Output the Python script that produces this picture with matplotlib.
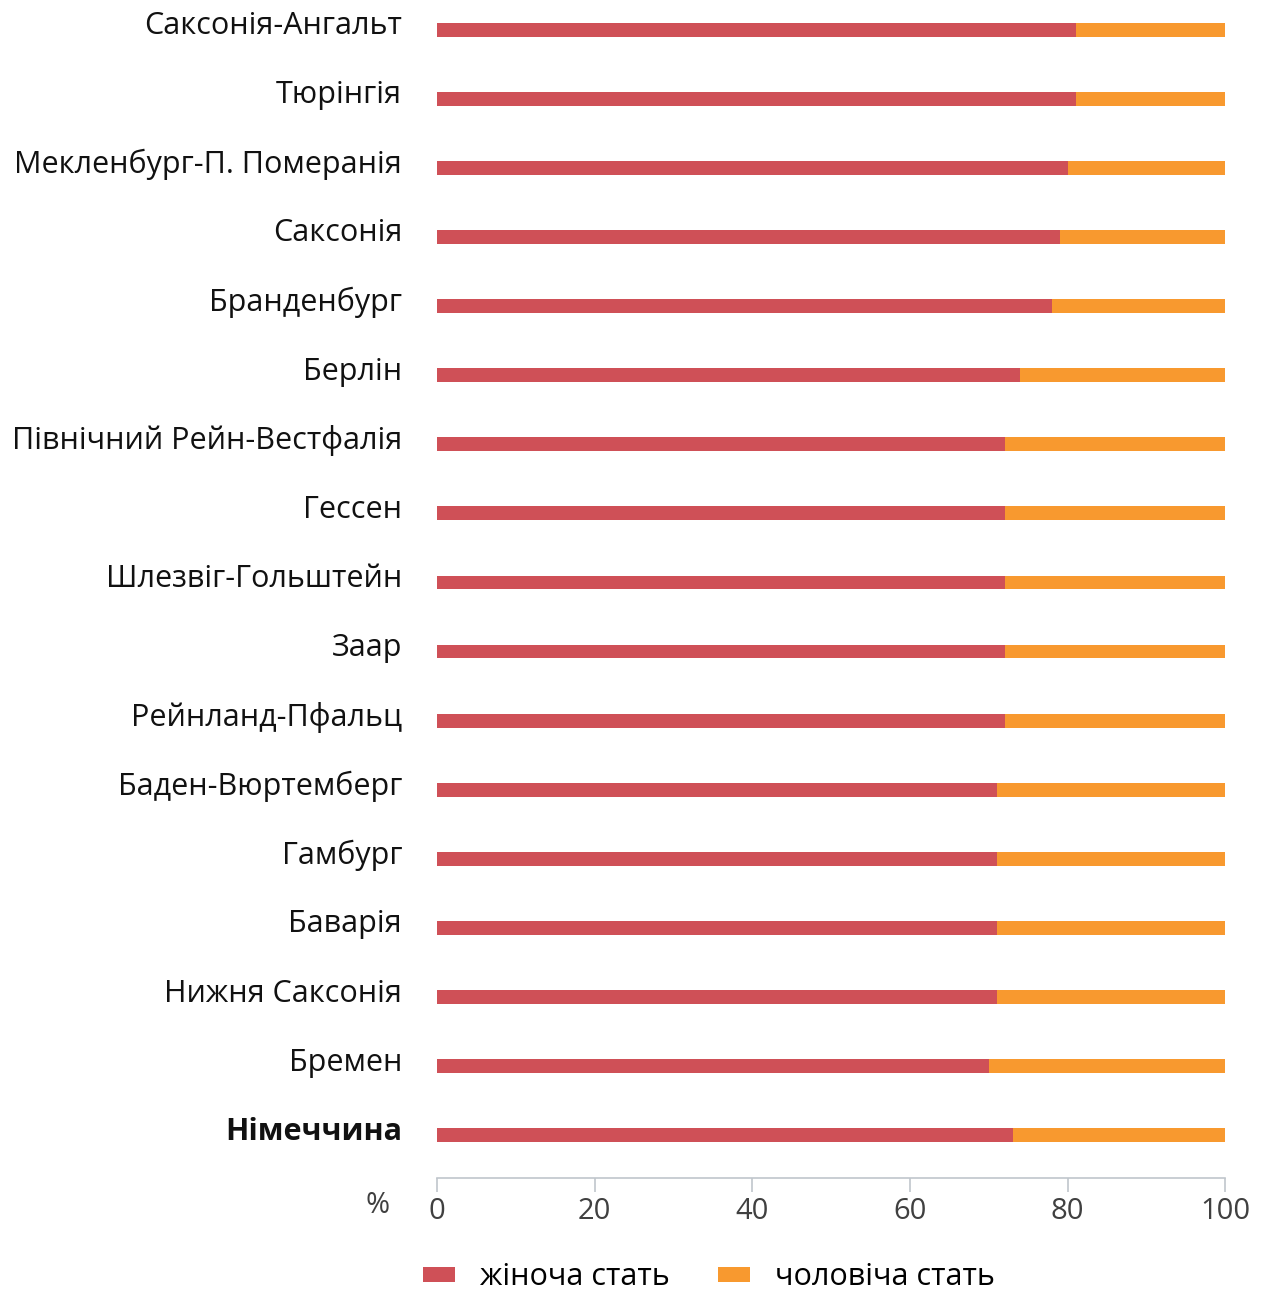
import numpy as np
import matplotlib.pyplot as plt
import matplotlib.transforms as mtransforms

plt.rcParams['font.family'] = ['Open Sans', 'DejaVu Sans']

# Share of employees by sex, per federal state (%)
regions = ['Німеччина', 'Бремен', 'Нижня Саксонія', 'Баварія', 'Гамбург',
           'Баден-Вюртемберг', 'Рейнланд-Пфальц', 'Заар', 'Шлезвіг-Гольштейн',
           'Гессен', 'Північний Рейн-Вестфалія', 'Берлін', 'Бранденбург',
           'Саксонія', 'Мекленбург-П. Померанія', 'Тюрінгія', 'Саксонія-Ангальт']
female = [73, 70, 71, 71, 71, 71, 72, 72, 72, 72, 72, 74, 78, 79, 80, 81, 81]
male = [100 - f for f in female]
ticks = [0, 20, 40, 60, 80, 100]

red = '#CF5057'
orange = '#F8992F'

fig = plt.figure(figsize=(12.66, 12.93), dpi=100)
ax = fig.add_axes([0.345, 0.0889, 0.623, 0.9111])

y = np.arange(len(regions))
ax.barh(y, female, height=0.2, color=red, label='жіноча стать')
ax.barh(y, male, left=female, height=0.2, color=orange, label='чоловіча стать')

ax.set_xlim(0, 100)
ax.set_ylim(-0.62, len(regions) - 0.57)
ax.set_xticks(ticks)
ax.set_yticks(y)
ax.set_yticklabels(regions)

for s in ['top', 'right', 'left']:
    ax.spines[s].set_visible(False)
ax.spines['bottom'].set_color('#C0C6CC')
ax.spines['bottom'].set_linewidth(1.2)

ax.tick_params(axis='x', colors='#C0C6CC', length=10, width=1.2,
               labelcolor='#404040', labelsize=21, pad=4)
ax.tick_params(axis='y', length=0, labelsize=22, labelcolor='#111111', pad=25)

# category names sit a little above their bars
shift = mtransforms.ScaledTranslation(0, 0.07, fig.dpi_scale_trans)
for lbl in ax.get_yticklabels():
    lbl.set_transform(lbl.get_transform() + shift)
ax.get_yticklabels()[0].set_fontweight('bold')

ax.text(-0.075, -0.011, '%', transform=ax.transAxes, fontsize=21,
        color='#404040', ha='center', va='top')

fig.legend(loc='center', bbox_to_anchor=(0.56, 0.012), ncol=2, frameon=False,
           fontsize=22, handlelength=1.05, handleheight=0.4, columnspacing=1.6,
           handletextpad=0.8)

fig.savefig('out.png', dpi=100)
